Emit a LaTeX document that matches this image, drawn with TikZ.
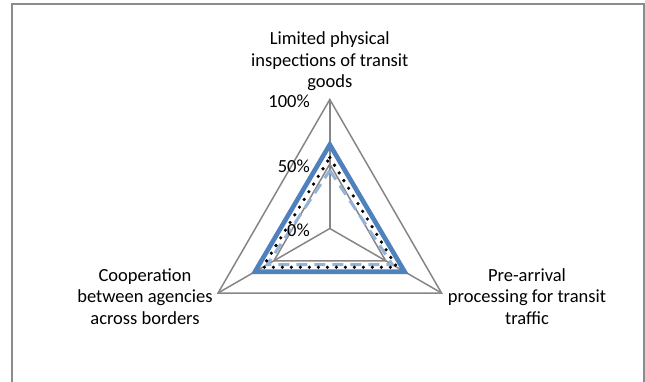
\documentclass[tikz,border=0pt]{standalone}
\usepackage{fontspec}
\setmainfont{Carlito}
\usetikzlibrary{calc}
\definecolor{gridgray}{HTML}{868686}
\definecolor{framegray}{HTML}{8C8C8C}
\definecolor{seriesblue}{HTML}{4F81BD}
\definecolor{serieslight}{HTML}{95B3D7}
\tikzset{
  grid/.style={draw=gridgray, line width=1.5pt, line join=miter},
  frame/.style={draw=framegray, line width=1.7pt},
  sblue/.style={draw=seriesblue, line width=4.6pt, line join=miter},
  sdots/.style={draw=black, line width=3.6pt, line cap=round, dash pattern=on 0pt off 9pt, line join=round},
  sdash/.style={draw=serieslight, line width=3pt, dash pattern=on 11pt off 7pt},
  axislabel/.style={font=\fontsize{18.5}{21.5}\selectfont, align=center, inner sep=0pt},
  ticklabel/.style={font=\fontsize{18.5}{21.5}\selectfont, anchor=east, inner sep=0pt}
}
\begin{document}
\begin{tikzpicture}[x=1pt,y=-1pt]
\useasboundingbox (0,0) rectangle (645,381);
\fill[white] (0,0) rectangle (645,381);
% frame (open at bottom, as cropped)
\coordinate (f1) at (11.7,395);
\coordinate (f2) at (11.7,4);
\coordinate (f3) at (644,4);
\coordinate (f4) at (644,395);
\draw[frame] (f1) -- (f2) -- (f3) -- (f4);
% centre and axes
\coordinate (O) at (329.8,228.5);
\coordinate (gT) at ($(O)+(-90:129)$);
\coordinate (gL) at ($(O)+(150:129)$);
\coordinate (gR) at ($(O)+(30:129)$);
\coordinate (hT) at ($(O)+(-90:64.5)$);
\coordinate (hL) at ($(O)+(150:64.5)$);
\coordinate (hR) at ($(O)+(30:64.5)$);
\draw[grid] (O) -- (gT);
\draw[grid] (O) -- (gL);
\draw[grid] (O) -- (gR);
\draw[grid] (gT) -- (gR) -- (gL) -- cycle;
\draw[grid] (hT) -- (hR) -- (hL) -- cycle;
% series: light dashed
\coordinate (cT) at ($(O)+(-90:58.05)$);
\coordinate (cL) at ($(O)+(150:72.24)$);
\coordinate (cR) at ($(O)+(30:72.24)$);
\draw[sdash] (cT) -- (cR) -- (cL) -- cycle;
% series: dotted
\coordinate (dT) at ($(O)+(-90:70.95)$);
\coordinate (dL) at ($(O)+(150:77.4)$);
\coordinate (dR) at ($(O)+(30:77.4)$);
\draw[sdots] (dT) -- (dR) -- (dL) -- cycle;
% series: blue
\coordinate (bT) at ($(O)+(-90:83.85)$);
\coordinate (bL) at ($(O)+(150:86.43)$);
\coordinate (bR) at ($(O)+(30:86.43)$);
\draw[sblue] (bT) -- (bR) -- (bL) -- cycle;
% tick labels
\node[ticklabel] (t100) at (310,101.5) {100\%};
\node[ticklabel] (t50) at (310,166) {50\%};
\node[ticklabel] (t0) at (310,230.5) {0\%};
% axis labels
\node[axislabel] (lt) at (329.8,61.5) {Limited physical\\inspections of transit\\goods};
\node[axislabel] (ll) at (145,296.2) {Cooperation\\between agencies\\across borders};
\node[axislabel] (lr) at (527,296.2) {Pre-arrival\\processing for transit\\traffic};
\end{tikzpicture}
\end{document}
